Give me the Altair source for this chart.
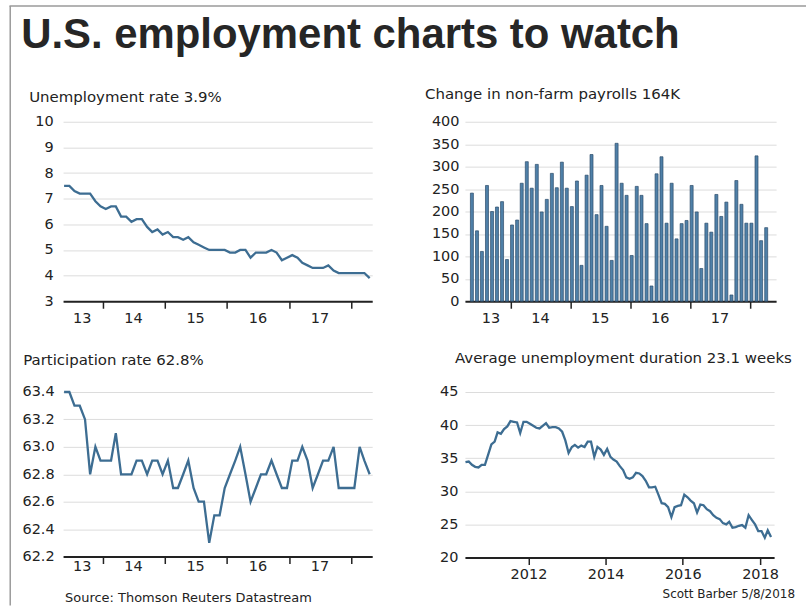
import altair as alt
import pandas as pd

# ---------------- data ----------------
# Unemployment rate, %, monthly May 2013 - Apr 2018
unemp_rate = [7.5, 7.5, 7.3, 7.2, 7.2, 7.2, 6.9, 6.7,
              6.6, 6.7, 6.7, 6.3, 6.3, 6.1, 6.2, 6.2, 5.9, 5.7, 5.8, 5.6,
              5.7, 5.5, 5.5, 5.4, 5.5, 5.3, 5.2, 5.1, 5.0, 5.0, 5.0, 5.0,
              4.9, 4.9, 5.0, 5.0, 4.7, 4.9, 4.9, 4.9, 5.0, 4.9, 4.6, 4.7,
              4.8, 4.7, 4.5, 4.4, 4.3, 4.3, 4.3, 4.4, 4.2, 4.1, 4.1, 4.1,
              4.1, 4.1, 4.1, 3.9]

# Change in non-farm payrolls, thousands, monthly May 2013 - Apr 2018
payrolls = [241, 157, 111, 258, 200, 210, 222, 93, 170, 181,
            263, 311, 252, 305, 199, 227, 285, 253, 310, 252,
            211, 268, 80, 281, 327, 193, 258, 167, 91, 352,
            263, 236, 102, 256, 236, 173, 34, 284, 322, 174,
            263, 139, 173, 180, 258, 199, 73, 174, 154, 238,
            189, 221, 14, 269, 216, 174, 174, 324, 135, 164]

# Participation rate, %, monthly May 2013 - Apr 2018
participation = [63.4, 63.4, 63.3, 63.3, 63.2, 62.8, 63.0, 62.9, 62.9, 62.9,
                 63.1, 62.8, 62.8, 62.8, 62.9, 62.9, 62.8, 62.9, 62.9, 62.8,
                 62.9, 62.7, 62.7, 62.8, 62.9, 62.7, 62.6, 62.6, 62.3, 62.5,
                 62.5, 62.7, 62.8, 62.9, 63.0, 62.8, 62.6, 62.7, 62.8, 62.8,
                 62.9, 62.8, 62.7, 62.7, 62.9, 62.9, 63.0, 62.9, 62.7, 62.8,
                 62.9, 62.9, 63.0, 62.7, 62.7, 62.7, 62.7, 63.0, 62.9, 62.8]

# Average unemployment duration, weeks, monthly May 2010 - Apr 2018
duration = [34.4, 34.5, 34.0, 33.7, 33.6, 34.0, 34.0, 35.5, 37.1, 37.5,
            38.9, 38.7, 39.4, 39.8, 40.6, 40.5, 40.4, 38.8, 40.5, 40.5,
            40.2, 39.9, 39.6, 39.5, 39.9, 40.3, 39.6, 39.7, 39.7, 39.5,
            39.0, 37.7, 35.8, 36.7, 37.0, 36.6, 36.9, 36.7, 37.5, 37.5,
            35.2, 36.7, 36.3, 35.5, 36.4, 35.2, 34.8, 34.5, 33.8, 33.2,
            32.1, 31.9, 32.1, 32.8, 32.7, 32.3, 31.6, 30.6, 30.6, 30.7,
            29.5, 28.2, 28.1, 27.6, 26.1, 27.6, 27.8, 27.9, 29.5, 29.1,
            28.6, 28.2, 26.8, 28.0, 27.9, 27.3, 27.0, 26.4, 26.0, 25.8,
            25.2, 25.0, 25.4, 24.5, 24.6, 24.8, 24.9, 24.5, 26.4, 25.7,
            25.0, 24.0, 24.0, 23.0, 24.1, 23.1]

# axis labels / ticks
short_year_labels = ["13", "14", "15", "16", "17"]
short_label_dates = ["2013-09-03T00:00:00", "2014-07-02T00:00:00", "2015-07-02T00:00:00",
                     "2016-07-02T00:00:00", "2017-07-02T00:00:00"]
short_tick_years = [2014, 2015, 2016, 2017, 2018]
long_tick_years = [2012, 2014, 2016, 2018]
unemp_ticks = [3, 4, 5, 6, 7, 8, 9, 10]
payroll_ticks = [0, 50, 100, 150, 200, 250, 300, 350, 400]
part_ticks = [62.2, 62.4, 62.6, 62.8, 63.0, 63.2, 63.4]
dur_ticks = [20, 25, 30, 35, 40, 45]

main_title = "U.S. employment charts to watch"
t_unemp = "Unemployment rate 3.9%"
t_pay = "Change in non-farm payrolls 164K"
t_part = "Participation rate 62.8%"
t_dur = "Average unemployment duration 23.1 weeks"
source_text = "Source: Thomson Reuters Datastream"
credit_text = "Scott Barber 5/8/2018"

# ---------------- tables ----------------
m60_line = pd.date_range("2013-05-20", periods=60, freq=pd.DateOffset(months=1))
m60_bar = pd.date_range("2013-05-10", periods=60, freq=pd.DateOffset(months=1))
m96 = pd.date_range("2010-05-15", periods=96, freq=pd.DateOffset(months=1))

df_unemp = pd.DataFrame({"date": m60_line, "value": unemp_rate})
df_part = pd.DataFrame({"date": m60_line, "value": participation})
df_pay = pd.DataFrame({"date": m60_bar, "value": payrolls})
df_dur = pd.DataFrame({"date": m96, "value": duration})
df_lab = pd.DataFrame({"date": pd.to_datetime(short_label_dates), "label": short_year_labels})
one = pd.DataFrame({"k": [0]})

# ---------------- style ----------------
FONT = "DejaVu Sans"
TITLE_FONT = "Liberation Sans"
INK = "#222222"
LINE = "#3d6d92"
BAR_FILL = "#4f80a8"
BAR_EDGE = "#2d4d6a"
GRID = "#dcdcdc"
FRAME = "#9a9a9a"
LAB_SIZE = 14.5


def dt(y, m, d):
    return alt.DateTime(year=y, month=m, date=d)


def y_axis(vals, pad, fmt=None):
    kw = dict(values=vals, title=None, grid=True, gridColor=GRID, gridWidth=1,
              domain=False, ticks=False, labelPadding=pad, labelFont=FONT,
              labelFontSize=LAB_SIZE, labelColor=INK)
    if fmt:
        kw["format"] = fmt
    return alt.Axis(**kw)


def x_tick_axis(years):
    return alt.Axis(values=[dt(y, 1, 1) for y in years], labels=False, title=None,
                    grid=False, ticks=True, tickSize=7, tickWidth=1.5, tickColor=INK,
                    domain=True, domainColor=INK, domainWidth=2)


def panel_title(text, x, y):
    # panel heading, placed relative to the panel's plot area
    return alt.Chart(one).mark_text(text=text, font=FONT, fontSize=15, color=INK,
                                    align="left", baseline="alphabetic").encode(
        x=alt.value(x), y=alt.value(y))


def year_labels(xenc, ypix):
    return alt.Chart(df_lab).mark_text(font=FONT, fontSize=LAB_SIZE, color=INK,
                                       baseline="middle").encode(
        x=xenc, y=alt.value(ypix), text="label:N")


# ---------------- panel 1: unemployment rate ----------------
W1, H1 = 310, 180
x_short = alt.X("date:T", scale=alt.Scale(domain=[dt(2013, 5, 14), dt(2018, 5, 5)]),
                axis=x_tick_axis(short_tick_years))
line1 = alt.Chart(df_unemp).mark_line(color=LINE, strokeWidth=2.3).encode(
    x=x_short,
    y=alt.Y("value:Q", scale=alt.Scale(domain=[3, 10], nice=False, zero=False),
            axis=y_axis(unemp_ticks, 10)))
frame_left = alt.Chart(one).mark_rule(color=FRAME, strokeWidth=1.5).encode(
    x=alt.value(-53), y=alt.value(-116), y2=alt.value(485))
frame_top = alt.Chart(one).mark_rule(color=FRAME, strokeWidth=1.5).encode(
    x=alt.value(-53.75), x2=alt.value(745), y=alt.value(-116))
big_title = alt.Chart(one).mark_text(text=main_title, font=TITLE_FONT, fontSize=42,
                                     fontWeight="bold", color="#262626", align="left",
                                     baseline="alphabetic").encode(
    x=alt.value(-42), y=alt.value(-74))
p1 = alt.layer(line1, year_labels(x_short, H1 + 18), panel_title(t_unemp, -34, -20),
               frame_left, frame_top, big_title).properties(width=W1, height=H1)

# ---------------- panel 2: payrolls ----------------
W2, H2 = 312, 180
x_bar = alt.X("date:T", scale=alt.Scale(domain=[dt(2013, 4, 28), dt(2018, 5, 10)]),
              axis=x_tick_axis(short_tick_years))
bars = alt.Chart(df_pay).mark_bar(size=3, fill=BAR_FILL, stroke=BAR_EDGE, strokeWidth=0.7).encode(
    x=x_bar,
    y=alt.Y("value:Q", scale=alt.Scale(domain=[0, 400], nice=False),
            axis=y_axis(payroll_ticks, 6)))
p2 = alt.layer(bars, year_labels(x_bar, H2 + 18), panel_title(t_pay, -40, -23)).properties(
    width=W2, height=H2)

# ---------------- panel 3: participation ----------------
W3, H3 = 310, 165
line3 = alt.Chart(df_part).mark_line(color=LINE, strokeWidth=2.3).encode(
    x=x_short,
    y=alt.Y("value:Q", scale=alt.Scale(domain=[62.2, 63.4], nice=False, zero=False),
            axis=y_axis(part_ticks, 9, ".1f")))
source = alt.Chart(one).mark_text(text=source_text, font=FONT, fontSize=13, color=INK,
                                  align="left", baseline="alphabetic").encode(
    x=alt.value(2), y=alt.value(211))
p3 = alt.layer(line3, year_labels(x_short, H3 + 10), panel_title(t_part, -40, -27),
               source).properties(width=W3, height=H3)

# ---------------- panel 4: duration ----------------
W4, H4 = 310, 166
x_long = alt.X("date:T", scale=alt.Scale(domain=[dt(2010, 5, 10), dt(2018, 5, 14)]),
               axis=alt.Axis(values=[dt(y, 1, 1) for y in long_tick_years], format="%Y",
                             title=None, grid=False, ticks=True, tickSize=7, tickWidth=1.5,
                             tickColor=INK, domain=True, domainColor=INK, domainWidth=2,
                             labelFont=FONT, labelFontSize=LAB_SIZE, labelColor=INK,
                             labelPadding=3, labelFlush=False, labelOverlap=False))
line4 = alt.Chart(df_dur).mark_line(color=LINE, strokeWidth=2.3).encode(
    x=x_long,
    y=alt.Y("value:Q", scale=alt.Scale(domain=[20, 45], nice=False, zero=False),
            axis=y_axis(dur_ticks, 7)))
credit = alt.Chart(one).mark_text(text=credit_text, font=FONT, fontSize=12, color=INK,
                                  align="right", baseline="alphabetic").encode(
    x=alt.value(331), y=alt.value(207))
p4 = alt.layer(line4, panel_title(t_dur, -10, -29), credit).properties(width=W4, height=H4)

chart = alt.concat(p1, p2, p3, p4, columns=2, bounds="flush",
                   spacing={"row": 91, "column": 93}).properties(
    padding={"left": 8.25, "top": 4.25, "right": 0, "bottom": 0},
    background="white",
).configure(font=FONT).configure_view(stroke=None)

chart.save("out.html", embed_options={"renderer": "svg", "actions": False})
